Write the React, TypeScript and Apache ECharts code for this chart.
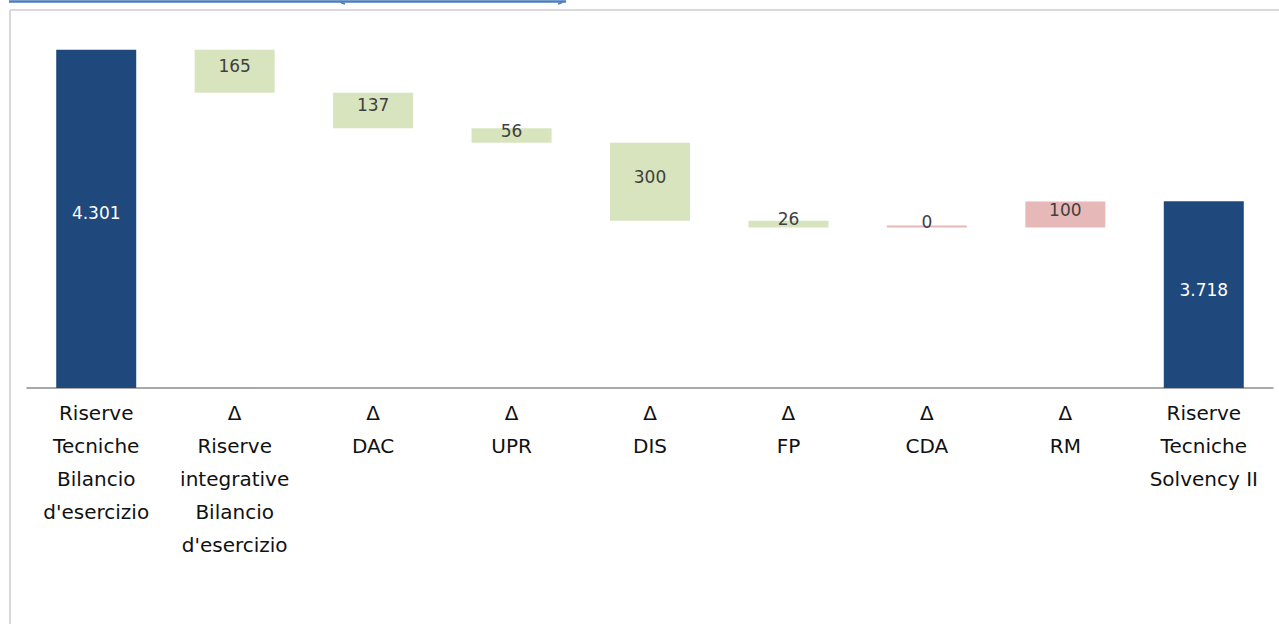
import React, { useEffect, useRef } from "react";
import * as echarts from "echarts";

const categories = [
  "Riserve\nTecniche\nBilancio\nd'esercizio",
  "Δ\nRiserve\nintegrative\nBilancio\nd'esercizio",
  "Δ\nDAC",
  "Δ\nUPR",
  "Δ\nDIS",
  "Δ\nFP",
  "Δ\nCDA",
  "Δ\nRM",
  "Riserve\nTecniche\nSolvency II",
];
const startTotal = 4301;
const endTotal = 3718;
const deltas = [-165, -137, -56, -300, -26, 0, 100];
const deltaLabels = ["165", "137", "56", "300", "26", "0", "100"];
const deltaKinds = ["down", "down", "down", "down", "down", "up", "up"];
const totalLabels = ["4.301", "3.718"];

const BLUE = "#1F497D";
const GREEN = "#D7E4BD";
const RED = "#E6B9B8";

export default function App() {
  const ref = useRef<HTMLDivElement>(null);
  useEffect(() => {
    if (!ref.current) return;
    const chart = echarts.init(ref.current, null, { renderer: "svg" });

    const base: number[] = [0];
    const visible: any[] = [];
    visible.push({
      value: startTotal,
      itemStyle: { color: BLUE },
      label: { formatter: totalLabels[0], color: "#ffffff", offset: [0, -6] },
    });
    let running = startTotal;
    deltas.forEach((d, i) => {
      const next = running + d;
      base.push(Math.min(running, next));
      visible.push({
        value: Math.abs(d),
        itemStyle: { color: deltaKinds[i] === "up" ? RED : GREEN },
        label: { formatter: deltaLabels[i], color: "#404040", offset: [0, -5] },
      });
      running = next;
    });
    base.push(0);
    visible.push({
      value: endTotal,
      itemStyle: { color: BLUE },
      label: { formatter: totalLabels[1], color: "#ffffff", offset: [0, -5] },
    });

    chart.setOption({
      animation: false,
      grid: { left: 27, right: 6, top: 24, bottom: 236, containLabel: false },
      xAxis: {
        type: "category",
        data: categories,
        boundaryGap: true,
        axisTick: { show: false },
        axisLine: { lineStyle: { color: "#8c8c8c", width: 1.5 } },
        axisLabel: {
          interval: 0,
          margin: 8,
          fontFamily: "DejaVu Sans",
          fontSize: 20,
          lineHeight: 33,
          color: "#111111",
          align: "center",
        },
      },
      yAxis: {
        type: "value",
        min: 3000,
        max: 4400,
        show: false,
        splitLine: { show: false },
      },
      series: [
        {
          type: "bar",
          stack: "wf",
          data: base,
          barWidth: 80,
          itemStyle: { color: "transparent" },
          silent: true,
        },
        {
          type: "bar",
          stack: "wf",
          data: visible,
          barWidth: 80,
          barMinHeight: 2,
          label: {
            show: true,
            position: "inside",
            fontFamily: "DejaVu Sans",
            fontSize: 17,
          },
        },
      ],
      graphic: [
        {
          type: "line",
          shape: { x1: 10, y1: 10, x2: 1279, y2: 10 },
          style: { stroke: "#d9d9d9", lineWidth: 2 },
        },
        {
          type: "line",
          shape: { x1: 10, y1: 10, x2: 10, y2: 624 },
          style: { stroke: "#d9d9d9", lineWidth: 2 },
        },
        {
          type: "line",
          shape: { x1: 9, y1: 1.5, x2: 566, y2: 1.5 },
          style: { stroke: "#4a7ebb", lineWidth: 2.5 },
        },
        {
          type: "polyline",
          shape: { points: [[340, 1], [342, 3], [345, 4]] },
          style: { stroke: "#4a7ebb", lineWidth: 1.5, fill: "none" },
        },
        {
          type: "polyline",
          shape: { points: [[563, 1], [561, 3], [558, 4]] },
          style: { stroke: "#4a7ebb", lineWidth: 1.5, fill: "none" },
        },
      ],
    });
    return () => chart.dispose();
  }, []);
  return (
    <div
      ref={ref}
      style={{ position: "fixed", left: 0, top: 0, width: 1279, height: 624, background: "#ffffff" }}
    />
  );
}
